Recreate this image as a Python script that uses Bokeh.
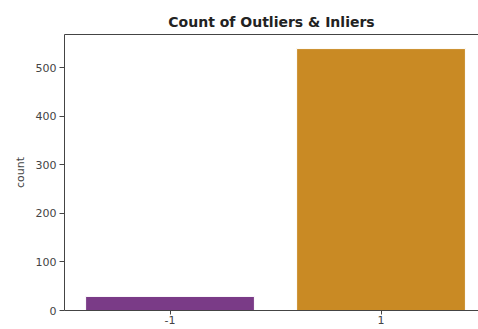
from bokeh.plotting import figure
from bokeh.models import ColumnDataSource, Range1d, FixedTicker, LinearAxis
from bokeh.embed import file_html
from bokeh.resources import INLINE

categories = ["-1", "1"]
counts = [29, 539]
colors = ["#7a3b87", "#c98a24"]
y_ticks = [0, 100, 200, 300, 400, 500]

positions = list(range(len(categories)))
src = ColumnDataSource(dict(x=positions, top=counts, color=colors))

p = figure(width=478, height=329, output_backend="svg", toolbar_location=None,
           x_range=Range1d(-0.5, 1.462), y_range=Range1d(0, 568),
           title="Count of Outliers & Inliers",
           min_border_left=64, min_border_right=0, min_border_top=34, min_border_bottom=19)
p.vbar(x="x", top="top", width=0.8, color="color", line_color="white", line_width=1, source=src)

p.title.align = "center"
p.title.text_font = "DejaVu Sans"
p.title.text_font_size = "14px"
p.title.text_font_style = "bold"
p.title.text_color = "#222222"
p.title.offset = 0

p.xgrid.visible = False
p.ygrid.visible = False
p.outline_line_color = None

p.xaxis.ticker = FixedTicker(ticks=positions)
p.xaxis.major_label_overrides = {i: c for i, c in zip(positions, categories)}
p.yaxis.ticker = FixedTicker(ticks=y_ticks)
p.yaxis.axis_label = "count"

for ax in (p.xaxis[0], p.yaxis[0]):
    ax.minor_tick_line_color = None
    ax.major_tick_out = 5
    ax.major_tick_in = 0
    ax.major_label_standoff = 3
    ax.major_label_text_font = "DejaVu Sans"
    ax.major_label_text_font_size = "11px"
    ax.major_label_text_color = "#444444"
    ax.axis_line_color = "#444444"
    ax.major_tick_line_color = "#444444"
p.xaxis.major_label_standoff = 1
p.xaxis.major_tick_out = 4
p.yaxis.axis_label_text_font = "DejaVu Sans"
p.yaxis.axis_label_text_font_size = "11px"
p.yaxis.axis_label_text_font_style = "normal"
p.yaxis.axis_label_text_color = "#444444"
p.yaxis.axis_label_standoff = 6

top_axis = LinearAxis(ticker=FixedTicker(ticks=[]), major_label_text_font_size="0px",
                      axis_line_color="#444444", major_tick_line_color=None,
                      minor_tick_line_color=None)
p.add_layout(top_axis, "above")

open("out.html", "w").write(file_html(p, INLINE))
